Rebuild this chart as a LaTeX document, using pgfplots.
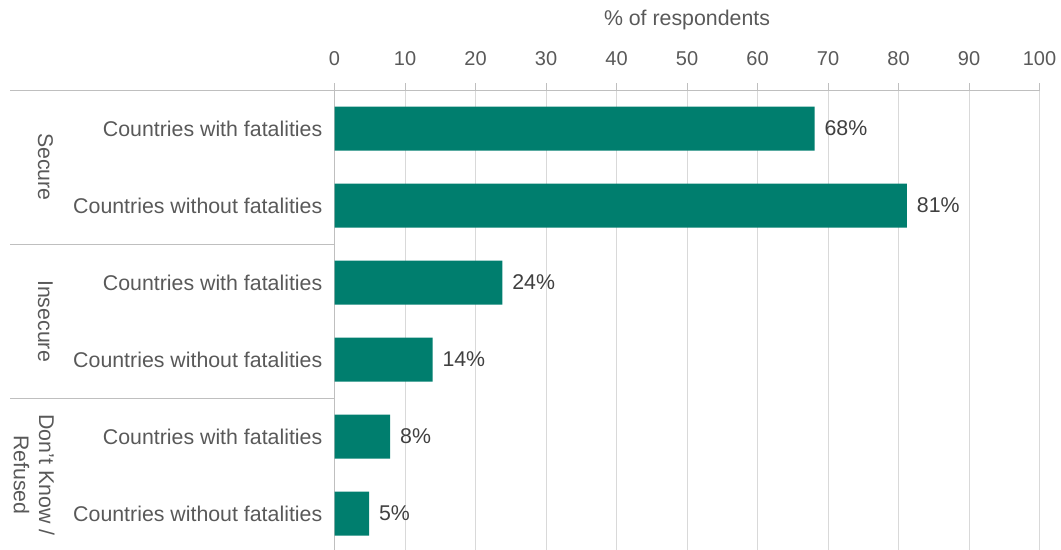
\documentclass[border=0pt]{standalone}
\usepackage{pgfplots}
\pgfplotsset{compat=1.18}
\usepackage{fontspec}
\setmainfont{Liberation Sans}
\definecolor{barteal}{HTML}{007E6E}
\definecolor{txtgray}{HTML}{595959}
\definecolor{lblgray}{HTML}{404040}
\definecolor{axgray}{HTML}{BFBFBF}
\definecolor{gridgray}{HTML}{D9D9D9}
\newcommand\cf{\fontsize{16pt}{19pt}\selectfont}
\newcommand\tf{\fontsize{15pt}{18pt}\selectfont}
\begin{document}
\begin{tikzpicture}
\begin{axis}[
  at={(0,0)}, anchor=south west,
  width=528.75pt, height=346.5pt, scale only axis,
  xmin=0, xmax=100, ymin=-0.5, ymax=5.5, y dir=reverse,
  xbar, bar width=33pt, bar shift=0pt,
  axis x line*=top, axis y line*=left,
  axis line style={axgray, line width=0.75pt},
  xtick={0,10,...,100},
  xmajorgrids, grid style={gridgray, line width=0.75pt},
  tick align=outside, major tick length=5.25pt,
  x tick style={axgray, line width=0.75pt},
  ytick={0,1,2,3,4,5},
  yticklabels={Countries with fatalities, Countries without fatalities, Countries with fatalities, Countries without fatalities, Countries with fatalities, Countries without fatalities},
  y tick style={draw=none},
  ticklabel style={text=txtgray},
  /pgf/number format/assume math mode=true,
  yticklabel style={font=\cf, inner sep=0pt, xshift=-3.75pt},
  xticklabel style={font=\tf, anchor=base, inner sep=0pt, yshift=12.8pt},
  clip=false,
  point meta=explicit symbolic,
  nodes near coords={\pgfplotspointmeta\%},
  every node near coord/.append style={anchor=west, inner sep=0pt, xshift=7.3pt, font=\cf, text=lblgray},
]
\addplot[fill=barteal, draw=none] coordinates {
  (68.1,0) [68]
  (81.2,1) [81]
  (23.8,2) [24]
  (13.9,3) [14]
  (7.9,4) [8]
  (4.9,5) [5]
};
\draw[axgray, line width=0.75pt] (axis cs:-46,-0.5) -- (axis cs:0,-0.5);
\draw[axgray, line width=0.75pt] (axis cs:-46,1.5) -- (axis cs:0,1.5);
\draw[axgray, line width=0.75pt] (axis cs:-46,3.5) -- (axis cs:0,3.5);
\node[rotate=-90, font=\cf, text=txtgray] at (axis cs:-41,0.5) {Secure};
\node[rotate=-90, font=\cf, text=txtgray] at (axis cs:-41,2.5) {Insecure};
\node[rotate=-90, font=\cf, text=txtgray, align=center, inner sep=0pt] at (axis cs:-42.6,4.5) {Don't Know /\\Refused};
\node[anchor=base, font=\cf, text=txtgray, yshift=48.4pt] at (axis description cs:0.5,1) {\% of respondents};
\end{axis}
\pgfresetboundingbox
\path (-250.9pt,1.5pt) rectangle (544.85pt,414pt);
\end{tikzpicture}
\end{document}
